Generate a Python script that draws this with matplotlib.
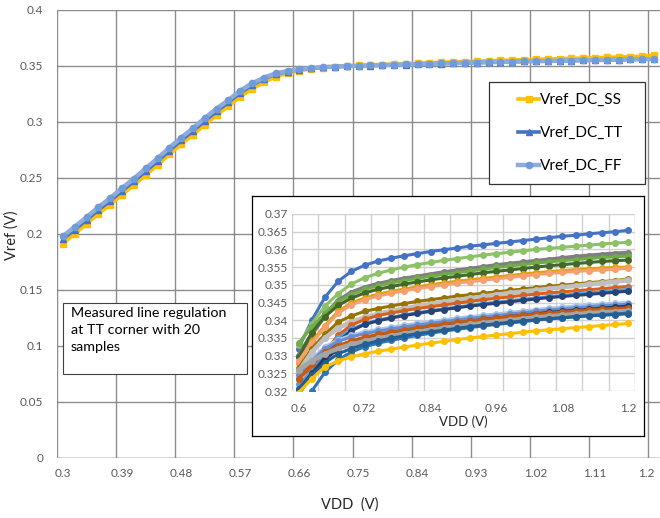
import numpy as np
import matplotlib
matplotlib.use("Agg")
import matplotlib.pyplot as plt
from matplotlib.patches import Rectangle

plt.rcParams['font.family'] = ['Lato', 'DejaVu Sans']

# ---- main chart data (category axis, 0.3 .. 1.2 V step 0.018) ----
vdd_main = [round(0.3 + 0.018 * i, 3) for i in range(51)]
main_labels = ["0.3", "0.39", "0.48", "0.57", "0.66", "0.75", "0.84", "0.93", "1.02", "1.11", "1.2"]

vref_ff = [0.198, 0.2065, 0.215, 0.224, 0.232, 0.241, 0.2495, 0.2585, 0.2675, 0.277,
           0.286, 0.2945, 0.3035, 0.312, 0.3195, 0.328, 0.3345, 0.3395, 0.3435, 0.3455,
           0.3472, 0.3482, 0.349, 0.3495, 0.3499, 0.3502, 0.3505, 0.3508, 0.3511, 0.3514,
           0.3517, 0.352, 0.3523, 0.3526, 0.3529, 0.3531, 0.3534, 0.3536, 0.3539, 0.3541,
           0.3543, 0.3545, 0.3547, 0.3549, 0.3551, 0.3553, 0.3555, 0.3557, 0.3559, 0.356,
           0.3562]
vref_tt = [0.1955, 0.204, 0.2125, 0.2215, 0.2295, 0.2385, 0.247, 0.256, 0.265, 0.2745,
           0.2835, 0.292, 0.301, 0.3095, 0.3175, 0.326, 0.333, 0.3385, 0.3428, 0.345,
           0.3468, 0.348, 0.3488, 0.3494, 0.3498, 0.3501, 0.3504, 0.3507, 0.351, 0.3513,
           0.3516, 0.3519, 0.3522, 0.3525, 0.3528, 0.3531, 0.3533, 0.3536, 0.3538, 0.3541,
           0.3543, 0.3545, 0.3547, 0.3549, 0.3551, 0.3553, 0.3555, 0.3557, 0.3559, 0.3561,
           0.3563]
vref_ss = [0.1915, 0.2, 0.209, 0.218, 0.226, 0.235, 0.2435, 0.2525, 0.2615, 0.271,
           0.28, 0.2885, 0.2975, 0.306, 0.314, 0.3225, 0.3295, 0.3355, 0.3405, 0.3435,
           0.3458, 0.3474, 0.3486, 0.3494, 0.35, 0.3505, 0.3509, 0.3513, 0.3517, 0.3521,
           0.3525, 0.3529, 0.3533, 0.3537, 0.354, 0.3543, 0.3547, 0.355, 0.3553, 0.3556,
           0.3559, 0.3562, 0.3565, 0.3568, 0.3571, 0.3574, 0.3577, 0.358, 0.3583, 0.3586,
           0.3595]

# ---- inset data (20 samples, 0.6 .. 1.2 V step 0.024) ----
vdd_inset = [round(0.6 + 0.024 * i, 3) for i in range(26)]
inset_labels = ["0.6", "0.72", "0.84", "0.96", "1.08", "1.2"]
nan = np.nan
samples = [
    ("#4472C4", [0.332, 0.340, 0.3465, 0.351, 0.3538, 0.3555, 0.3567, 0.3575, 0.3582, 0.3588, 0.3594, 0.3599, 0.3604, 0.3609, 0.3613, 0.3617, 0.3621, 0.3625, 0.3629, 0.3633, 0.3637, 0.364, 0.3644, 0.3647, 0.365, 0.3654]),
    ("#8CC168", [0.333, 0.339, 0.344, 0.3475, 0.3502, 0.352, 0.3532, 0.3542, 0.355, 0.3557, 0.3563, 0.3569, 0.3574, 0.3579, 0.3584, 0.3588, 0.3592, 0.3596, 0.36, 0.3603, 0.3606, 0.3609, 0.3612, 0.3615, 0.3618, 0.362]),
    ("#7F7F7F", [0.330, 0.336, 0.3415, 0.3455, 0.3478, 0.3492, 0.3502, 0.351, 0.3517, 0.3523, 0.3529, 0.3535, 0.354, 0.3545, 0.355, 0.3555, 0.3559, 0.3563, 0.3567, 0.3571, 0.3575, 0.3579, 0.3582, 0.3585, 0.3588, 0.359]),
    ("#70AD47", [0.3335, 0.338, 0.342, 0.3452, 0.3472, 0.3487, 0.3497, 0.3505, 0.3512, 0.3518, 0.3524, 0.3529, 0.3534, 0.3539, 0.3544, 0.3549, 0.3553, 0.3557, 0.3561, 0.3565, 0.3568, 0.3571, 0.3574, 0.3577, 0.3579, 0.3581]),
    ("#43682B", [0.3295, 0.3365, 0.341, 0.3442, 0.3462, 0.3477, 0.3487, 0.3495, 0.3502, 0.3508, 0.3514, 0.3519, 0.3524, 0.3529, 0.3534, 0.3538, 0.3542, 0.3546, 0.355, 0.3554, 0.3557, 0.356, 0.3563, 0.3566, 0.3568, 0.357]),
    ("#E0A100", [0.328, 0.334, 0.3385, 0.3425, 0.3448, 0.3463, 0.3473, 0.3481, 0.3488, 0.3494, 0.35, 0.3505, 0.351, 0.3514, 0.3518, 0.3522, 0.3526, 0.353, 0.3534, 0.3537, 0.354, 0.3543, 0.3545, 0.3547, 0.3549, 0.355]),
    ("#F4A070", [0.3285, 0.3335, 0.338, 0.342, 0.3443, 0.3458, 0.3468, 0.3476, 0.3483, 0.3489, 0.3495, 0.35, 0.3505, 0.3509, 0.3513, 0.3517, 0.3521, 0.3525, 0.3529, 0.3532, 0.3535, 0.3538, 0.354, 0.3542, 0.3544, 0.3547]),
    ("#997300", [0.3265, 0.332, 0.336, 0.3395, 0.3412, 0.3425, 0.3433, 0.344, 0.3447, 0.3453, 0.3458, 0.3463, 0.3468, 0.3472, 0.3476, 0.348, 0.3484, 0.3488, 0.3492, 0.3496, 0.3499, 0.3502, 0.3506, 0.3509, 0.3512, 0.3517]),
    ("#BFBFBF", [0.3255, 0.331, 0.335, 0.3378, 0.3395, 0.3408, 0.3418, 0.3426, 0.3433, 0.344, 0.3446, 0.3452, 0.3457, 0.3462, 0.3467, 0.3472, 0.3477, 0.3481, 0.3485, 0.3489, 0.3493, 0.3497, 0.3501, 0.3505, 0.3509, 0.3513]),
    ("#D8601A", [0.3235, 0.3265, 0.331, 0.3358, 0.3386, 0.3402, 0.3413, 0.342, 0.3427, 0.3433, 0.3438, 0.3443, 0.3448, 0.3453, 0.3458, 0.3462, 0.3466, 0.347, 0.3474, 0.3477, 0.348, 0.3483, 0.3486, 0.3489, 0.3492, 0.3495]),
    ("#5B9BD5", [0.322, 0.3255, 0.3305, 0.335, 0.3375, 0.339, 0.34, 0.3408, 0.3415, 0.3421, 0.3427, 0.3432, 0.3437, 0.3442, 0.3447, 0.3451, 0.3455, 0.3459, 0.3463, 0.3467, 0.347, 0.3474, 0.3477, 0.348, 0.3483, 0.3487]),
    ("#264478", [0.3205, 0.325, 0.3295, 0.334, 0.337, 0.3388, 0.3398, 0.3406, 0.3413, 0.3419, 0.3425, 0.343, 0.3435, 0.344, 0.3444, 0.3448, 0.3452, 0.3456, 0.346, 0.3464, 0.3467, 0.347, 0.3473, 0.3476, 0.3479, 0.3482]),
    ("#A9C4EB", [0.325, 0.329, 0.3325, 0.3345, 0.3358, 0.3367, 0.3374, 0.338, 0.3386, 0.3391, 0.3396, 0.3401, 0.3406, 0.341, 0.3414, 0.3418, 0.3422, 0.3426, 0.343, 0.3434, 0.3437, 0.344, 0.3443, 0.3446, 0.3448, 0.345]),
    ("#698ED0", [0.3245, 0.3285, 0.332, 0.334, 0.3353, 0.3362, 0.3369, 0.3375, 0.3381, 0.3386, 0.3391, 0.3396, 0.3401, 0.3405, 0.3409, 0.3413, 0.3417, 0.3421, 0.3425, 0.3429, 0.3432, 0.3435, 0.3438, 0.3441, 0.3443, 0.3445]),
    ("#203864", [0.319, 0.3245, 0.329, 0.3318, 0.3335, 0.3347, 0.3356, 0.3363, 0.337, 0.3376, 0.3382, 0.3387, 0.3392, 0.3397, 0.3402, 0.3406, 0.341, 0.3414, 0.3418, 0.3422, 0.3425, 0.3428, 0.3431, 0.3434, 0.3437, 0.344]),
    ("#C55A11", [0.3235, 0.3275, 0.331, 0.3328, 0.3342, 0.3352, 0.336, 0.3367, 0.3373, 0.3379, 0.3384, 0.3389, 0.3394, 0.3398, 0.3402, 0.3406, 0.341, 0.3414, 0.3417, 0.342, 0.3423, 0.3426, 0.3429, 0.3431, 0.3433, 0.3435]),
    ("#A5A5A5", [0.326, 0.3285, 0.3305, 0.332, 0.3332, 0.3341, 0.3349, 0.3356, 0.3362, 0.3368, 0.3373, 0.3378, 0.3383, 0.3388, 0.3392, 0.3396, 0.34, 0.3404, 0.3408, 0.3411, 0.3414, 0.3417, 0.342, 0.3422, 0.3424, 0.3426]),
    ("#2E75B6", [nan, 0.320, 0.3253, 0.3288, 0.331, 0.3325, 0.3335, 0.3343, 0.335, 0.3357, 0.3363, 0.3369, 0.3374, 0.3379, 0.3384, 0.3388, 0.3392, 0.3396, 0.34, 0.3404, 0.3407, 0.341, 0.3413, 0.3416, 0.3418, 0.342]),
    ("#255E91", [0.3205, 0.3245, 0.328, 0.3305, 0.332, 0.3332, 0.3341, 0.3349, 0.3356, 0.3362, 0.3367, 0.3372, 0.3377, 0.3382, 0.3386, 0.339, 0.3394, 0.3398, 0.3401, 0.3404, 0.3407, 0.341, 0.3412, 0.3414, 0.3416, 0.3418]),
    ("#FFC000", [0.3195, 0.3235, 0.3268, 0.3285, 0.3297, 0.3305, 0.3312, 0.3318, 0.3324, 0.333, 0.3335, 0.334, 0.3345, 0.335, 0.3354, 0.3358, 0.3362, 0.3366, 0.337, 0.3373, 0.3376, 0.3379, 0.3382, 0.3385, 0.3388, 0.3391]),
]

W, H = 660, 518
fig = plt.figure(figsize=(W / 100, H / 100), dpi=100)


def fbox(x0, y0, x1, y1):
    # pixel box (top-left origin) -> figure fraction rect
    return [x0 / W, 1 - y1 / H, (x1 - x0) / W, (y1 - y0) / H]


tick_col = "#595959"
grid_col = "#8C8C8C"

# ---- main axes ----
ax = fig.add_axes(fbox(57, 10, 660, 458))
xm = np.arange(len(vdd_main))
ax.plot(xm, vref_ss, color="#FFC000", lw=2.6, marker="s", ms=4.5, label="Vref_DC_SS", zorder=3)
ax.plot(xm, vref_tt, color="#4472C4", lw=2.6, marker="^", ms=4.5, label="Vref_DC_TT", zorder=4)
ax.plot(xm, vref_ff, color="#8FAADC", lw=3.2, marker="o", ms=4.5, mfc="#6F9BD8", mec="#6F9BD8",
        label="Vref_DC_FF", zorder=5)
ax.set_xlim(-0.5, len(vdd_main) - 0.5)
ax.set_ylim(0, 0.4)
ax.set_xticks(xm[::5])
ax.set_xticklabels(main_labels)
ax.get_xticklabels()[-1].set_horizontalalignment("right")
ax.set_xticks(np.arange(-0.5, len(vdd_main), 5), minor=True)
ax.set_yticks(np.arange(0, 0.401, 0.05))
ax.set_yticklabels(["0", "0.05", "0.1", "0.15", "0.2", "0.25", "0.3", "0.35", "0.4"])
ax.grid(True, which="minor", axis="x", color=grid_col, lw=1)
ax.grid(True, which="major", axis="y", color=grid_col, lw=1)
ax.tick_params(which="both", length=0, colors=tick_col, labelsize=8.5)
ax.tick_params(axis="x", pad=7)
ax.tick_params(axis="y", pad=10)
for s in ax.spines.values():
    s.set_visible(False)
ax.axhline(0, color=grid_col, lw=1)

fig.text(12 / W, 1 - 235 / H, "Vref (V)", rotation=90, ha="center", va="center", fontsize=10.5, color="#262626")
fig.text(350 / W, 1 - 505 / H, "VDD  (V)", ha="center", va="center", fontsize=10.5, color="#262626")

# legend: frame drawn separately so the padding can match
ax.add_patch(Rectangle((489 / W, 1 - 184 / H), 156 / W, 102 / H, transform=fig.transFigure,
                       facecolor="white", edgecolor="#333333", lw=0.9, zorder=10, clip_on=False))
leg = ax.legend(loc="center left", bbox_to_anchor=(518 / W, 1 - 133 / H), bbox_transform=fig.transFigure,
                frameon=False, fontsize=11, handlelength=1.4, handletextpad=0.05,
                labelspacing=1.25, borderpad=0, borderaxespad=0)
leg.set_zorder(11)

# ---- text box ----
ax.add_patch(Rectangle((63 / W, 1 - 374 / H), 184 / W, 71 / H, transform=fig.transFigure,
                       facecolor="white", edgecolor="#404040", lw=0.8, zorder=10, clip_on=False))
ax.text(71 / W, 1 - 307 / H, "Measured line regulation\nat TT corner with 20\nsamples",
        transform=fig.transFigure, ha="left", va="top", fontsize=10.3, linespacing=1.5,
        color="black", zorder=11)

# ---- inset frame ----
frame = fig.add_axes(fbox(252, 196, 644, 436))
frame.set_xticks([])
frame.set_yticks([])
frame.set_facecolor("white")
for s in frame.spines.values():
    s.set_color("black")
    s.set_linewidth(0.9)

ins = fig.add_axes(fbox(292, 214, 635, 391))
xi = np.arange(len(vdd_inset))
for col, vals in samples:
    lw = 3.2 if col in ("#7F7F7F", "#BFBFBF", "#A5A5A5") else 2.2
    ins.plot(xi, vals, color=col, lw=lw, marker="o", ms=4, zorder=3)
ins.set_xlim(-0.5, len(vdd_inset) - 0.5)
ins.set_ylim(0.32, 0.37)
ins.set_xticks(xi[::5])
ins.set_xticklabels(inset_labels)
ins.set_xticks(np.arange(-0.5, len(vdd_inset), 2), minor=True)
ins.set_yticks(np.arange(0.32, 0.3701, 0.005))
ins.set_yticklabels(["0.32", "0.325", "0.33", "0.335", "0.34", "0.345", "0.35",
                     "0.355", "0.36", "0.365", "0.37"])
ins.grid(True, which="minor", axis="x", color="#D0D0D0", lw=1)
ins.grid(True, which="major", axis="y", color="#D0D0D0", lw=1)
ins.tick_params(which="both", length=0, colors=tick_col, labelsize=8.5)
ins.tick_params(axis="x", pad=9)
ins.tick_params(axis="y", pad=3)
for s in ins.spines.values():
    s.set_visible(False)
ins.set_xlabel("VDD (V)", fontsize=9.5, color="#262626", labelpad=1)

fig.savefig("out.png", dpi=100)
